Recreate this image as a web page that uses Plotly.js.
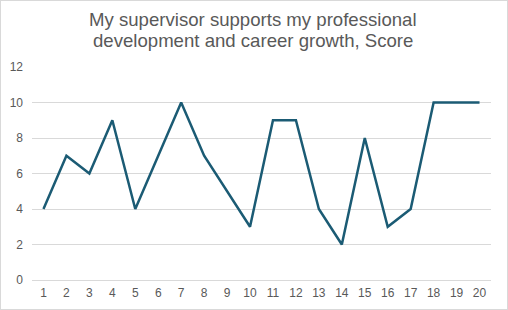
<!DOCTYPE html>
<html>
<head>
<meta charset="utf-8">
<script src="https://cdn.plot.ly/plotly-3.0.1.min.js"></script>
<style>
  html, body { margin: 0; padding: 0; background: #fff; }
  #chart { width: 506px; height: 308px; border: 1px solid #D9D9D9; }
</style>
</head>
<body>
<div id="chart"></div>
<script>
const categories = [1,2,3,4,5,6,7,8,9,10,11,12,13,14,15,16,17,18,19,20];
const scores = [4,7,6,9,4,7,10,7,5,3,9,9,4,2,8,3,4,10,10,10];
const yTicks = [0,2,4,6,8,10,12];
const titleLines = ["My supervisor supports my professional", "development and career growth, Score"];

const trace = {
  x: categories,
  y: scores,
  type: "scatter",
  mode: "lines",
  line: { color: "#1B5B74", width: 2.5 },
  hoverinfo: "x+y"
};

const titleFont = { size: 18.6, color: "#595959", family: "Liberation Sans, Arial, sans-serif" };

const layout = {
  width: 506,
  height: 308,
  margin: { l: 31, r: 16, t: 66, b: 29 },
  paper_bgcolor: "#fff",
  plot_bgcolor: "#fff",
  font: { family: "Liberation Sans, Arial, sans-serif", color: "#595959", size: 12 },
  annotations: [
    { text: titleLines[0], xref: "paper", yref: "paper", x: 0.481, y: 1.222, xanchor: "center", yanchor: "middle", showarrow: false, font: titleFont },
    { text: titleLines[1], xref: "paper", yref: "paper", x: 0.481, y: 1.124, xanchor: "center", yanchor: "middle", showarrow: false, font: titleFont }
  ],
  xaxis: {
    range: [0.5, 20.5],
    tickmode: "array",
    tickvals: categories,
    ticktext: categories.map(String),
    showgrid: false,
    zeroline: false,
    showline: false,
    ticks: "",
    ticklabelstandoff: 4,
    tickfont: { size: 12, color: "#595959" },
    fixedrange: true
  },
  yaxis: {
    range: [0, 12],
    tickmode: "array",
    tickvals: yTicks,
    showgrid: true,
    gridcolor: "#D9D9D9",
    gridwidth: 1,
    zeroline: true,
    zerolinecolor: "#D9D9D9",
    zerolinewidth: 1,
    showline: false,
    ticks: "",
    ticklabelstandoff: 8,
    tickfont: { size: 12, color: "#595959" },
    fixedrange: true
  },
  showlegend: false
};

Plotly.newPlot("chart", [trace], layout, { displayModeBar: false, staticPlot: true });
</script>
</body>
</html>
